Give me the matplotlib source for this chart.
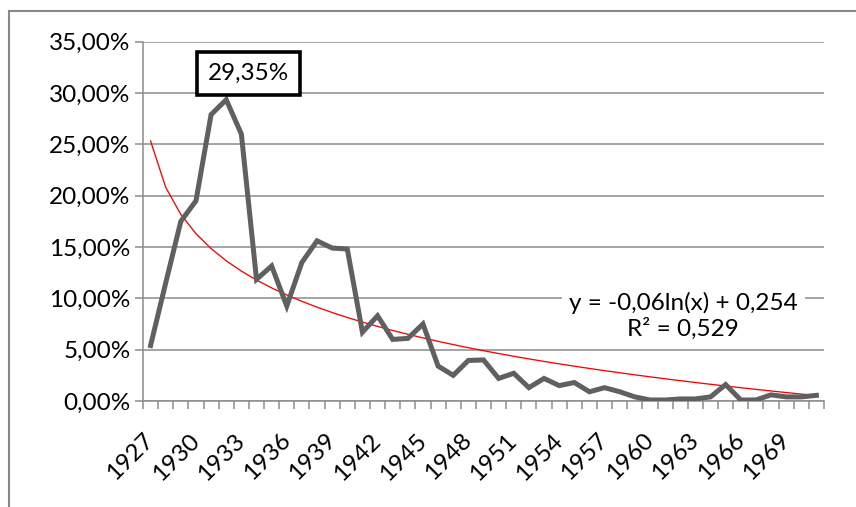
#!/usr/bin/env python3
import matplotlib
matplotlib.use("Agg")
import matplotlib.pyplot as plt
import numpy as np
from matplotlib.patches import Rectangle
from matplotlib.ticker import FuncFormatter, MultipleLocator

# yearly share, as fraction
years = list(range(1927, 1972))
share = [
    0.054, 0.115, 0.175, 0.195, 0.279, 0.2935, 0.260, 0.1185, 0.1315, 0.0925,
    0.135, 0.156, 0.149, 0.148, 0.067, 0.083, 0.060, 0.061, 0.075, 0.034,
    0.025, 0.0395, 0.040, 0.022, 0.027, 0.013, 0.022, 0.015, 0.018, 0.009,
    0.013, 0.009, 0.004, 0.001, 0.001, 0.002, 0.002, 0.004, 0.016, 0.001,
    0.001, 0.006, 0.004, 0.004, 0.0055,
]
label_years = years[::3][:15]
peak_label = "29,35%"
eq_text = "y = -0,06ln(x) + 0,254\nR\u00b2 = 0,529"

plt.rcParams["font.family"] = ["Lato", "DejaVu Sans"]

GRID = "#8c8c8c"
FS = 17.5

def pct(v, pos):
    return f"{v*100:.2f}%".replace(".", ",")

def main():
    fig = plt.figure(figsize=(8.56, 5.07), dpi=100)
    # chart area border
    fig.patches.append(Rectangle((9 / 856, -0.1), 1.0, 1.0 - 11 / 507 + 0.1,
                                 transform=fig.transFigure, fill=False,
                                 edgecolor="#888888", lw=1.5))
    ax = fig.add_axes([143 / 856, 1 - 401 / 507, 681 / 856, (401 - 41.7) / 507])

    x = np.arange(len(years))
    y = np.array(share)

    # log trendline fitted on category index 1..n
    n = x + 1
    b, a = np.polyfit(np.log(n), y, 1)
    ax.plot(x, a + b * np.log(n), color="red", lw=0.95, zorder=3)
    ax.plot(x, y, color="#606060", lw=3.6, solid_joinstyle="miter", zorder=4)

    ax.set_xlim(-0.5, len(years) - 0.5)
    ax.set_ylim(0, 0.35)
    ax.yaxis.set_major_locator(MultipleLocator(0.05))
    ax.yaxis.set_major_formatter(FuncFormatter(pct))
    ax.grid(axis="y", color=GRID, lw=1.1)
    ax.set_axisbelow(True)

    ticks = [years.index(yr) for yr in label_years]
    ax.set_xticks(ticks)
    ax.set_xticklabels([str(yr) for yr in label_years], rotation=45,
                       ha="right", va="center", rotation_mode="anchor")
    ax.set_xticks(np.arange(-0.5, len(years)), minor=True)
    ax.tick_params(axis="x", which="major", length=0, pad=26, labelsize=FS)
    ax.tick_params(axis="x", which="minor", length=6, width=1.1, color=GRID)
    ax.tick_params(axis="y", length=6, width=1.1, color=GRID, labelsize=FS, pad=3)

    for side in ("top", "right"):
        ax.spines[side].set_visible(False)
    for side in ("left", "bottom"):
        ax.spines[side].set_color(GRID)
        ax.spines[side].set_linewidth(1.1)

    # peak label
    ipk = int(np.argmax(y))
    ax.annotate(peak_label, xy=(ipk, y[ipk]), xytext=(16, 19),
                textcoords="offset points", ha="center", va="center",
                fontsize=FS, zorder=6,
                bbox=dict(boxstyle="square,pad=0.45", fc="white", ec="black", lw=2.6))

    # trendline equation
    ax.text(35.2, 0.0825, eq_text, ha="center", va="center", fontsize=FS,
            linespacing=1.2, zorder=5,
            bbox=dict(boxstyle="square,pad=0.3", fc="white", ec="none"))

    fig.savefig("out.png", dpi=100)

if __name__ == "__main__":
    main()
